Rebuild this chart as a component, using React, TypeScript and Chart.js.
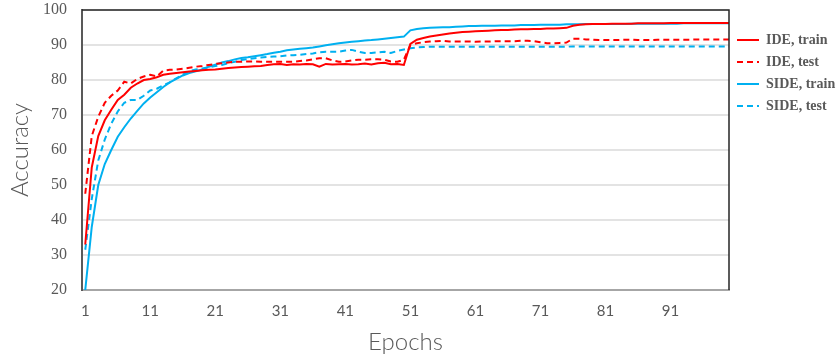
import React, { useEffect, useRef } from 'react';
import { Chart, registerables } from 'chart.js';

Chart.register(...registerables);

// Epoch numbers (x categories)
const epochs: number[] = Array.from({ length: 100 }, (_, i) => i + 1);
const xTickValues = [1, 11, 21, 31, 41, 51, 61, 71, 81, 91];
const yTickValues = [20, 30, 40, 50, 60, 70, 80, 90, 100];

const ideTrain = [
  33, 55, 64, 68.5, 71.5, 74.3, 75.8, 77.8, 79, 80,
  80.3, 80.8, 81.5, 81.8, 82, 82.2, 82.4, 82.6, 82.8, 82.9,
  83, 83.2, 83.4, 83.6, 83.7, 83.8, 83.9, 84, 84.3, 84.5,
  84.6, 84.3, 84.5, 84.4, 84.6, 84.5, 83.8, 84.6, 84.4, 84.5,
  84.6, 84.4, 84.5, 84.7, 84.4, 84.8, 84.9, 84.5, 84.6, 84.3,
  90.3, 91.5, 92, 92.4, 92.7, 93, 93.3, 93.5, 93.7, 93.8,
  93.9, 94, 94.1, 94.2, 94.3, 94.3, 94.4, 94.5, 94.5, 94.6,
  94.6, 94.7, 94.7, 94.8, 94.9, 95.5, 95.8, 95.9, 96, 96,
  96, 96.1, 96.1, 96.1, 96.1, 96.2, 96.2, 96.2, 96.2, 96.2,
  96.3, 96.3, 96.3, 96.3, 96.3, 96.3, 96.3, 96.3, 96.3, 96.3,
];

const ideTest = [
  47.5, 64, 69.5, 73.5, 75.5, 77, 79.5, 79, 80.3, 81,
  81.5, 81, 82.7, 82.9, 83, 83.2, 83.5, 83.8, 84, 84.3,
  84.6, 84.8, 85, 85.2, 85.2, 85.3, 85.3, 85.2, 85.2, 85.2,
  85.2, 85.2, 85.2, 85.4, 85.6, 85.9, 86.2, 86.2, 85.6, 85.2,
  85.3, 85.6, 85.8, 85.8, 85.9, 85.9, 85.8, 85.3, 85.2, 85.8,
  90, 90.5, 90.8, 91, 91.1, 91.2, 91, 91, 91, 91,
  90.9, 91, 91, 91.1, 91.1, 91.1, 91.1, 91.2, 91.2, 91.1,
  90.8, 90.5, 90.5, 90.6, 90.7, 91.8, 91.8, 91.6, 91.5, 91.4,
  91.4, 91.4, 91.4, 91.5, 91.5, 91.4, 91.4, 91.4, 91.5, 91.5,
  91.5, 91.5, 91.5, 91.5, 91.6, 91.6, 91.6, 91.6, 91.6, 91.6,
];

const sideTrain = [
  20, 38, 50, 56, 60, 63.8, 66.5, 69, 71.2, 73.3,
  75, 76.5, 78, 79.3, 80.3, 81.3, 82, 82.5, 83, 83.8,
  84.4, 85, 85.4, 85.9, 86.3, 86.5, 86.8, 87.1, 87.4, 87.8,
  88.1, 88.5, 88.7, 88.9, 89.1, 89.3, 89.6, 89.9, 90.2, 90.5,
  90.7, 90.9, 91.1, 91.3, 91.4, 91.6, 91.8, 92, 92.2, 92.4,
  94.2, 94.6, 94.8, 94.9, 95, 95.1, 95.1, 95.2, 95.3, 95.4,
  95.4, 95.5, 95.5, 95.5, 95.6, 95.6, 95.6, 95.7, 95.7, 95.7,
  95.8, 95.8, 95.8, 95.8, 95.9, 95.9, 95.9, 96, 96, 96,
  96, 96, 96, 96, 96.1, 96.1, 96.1, 96.1, 96.1, 96.1,
  96.1, 96.1, 96.2, 96.2, 96.2, 96.2, 96.2, 96.2, 96.2, 96.2,
];

const sideTest = [
  31.5, 46, 57, 63, 67.5, 71, 73.5, 74.3, 74.3, 75.5,
  77, 77.5, 78.5, 79.3, 80.5, 81.5, 82.5, 83, 83.3, 83.6,
  84, 84.3, 84.8, 85.2, 85.7, 86, 86.2, 86.4, 86.6, 86.7,
  86.8, 87, 87.1, 87.2, 87.4, 87.6, 87.9, 88.1, 88.1, 88.1,
  88.4, 88.6, 88.1, 87.7, 87.7, 87.9, 88.1, 87.7, 88.3, 88.7,
  89.1, 89.3, 89.4, 89.5, 89.5, 89.5, 89.5, 89.5, 89.5, 89.5,
  89.5, 89.5, 89.5, 89.5, 89.5, 89.5, 89.5, 89.5, 89.5, 89.5,
  89.5, 89.5, 89.5, 89.5, 89.5, 89.6, 89.6, 89.6, 89.6, 89.6,
  89.6, 89.6, 89.6, 89.6, 89.6, 89.6, 89.6, 89.6, 89.6, 89.6,
  89.6, 89.6, 89.6, 89.6, 89.6, 89.6, 89.6, 89.6, 89.6, 89.6,
];

const seriesNames = ['IDE, train', 'IDE, test', 'SIDE, train', 'SIDE, test'];
const RED = '#ff0000';
const BLUE = '#00b0f0';
const DASH = [6, 4];

const toPoints = (vals: number[]) => vals.map((v, i) => ({ x: epochs[i], y: v }));

const frameBorder = {
  id: 'frameBorder',
  afterDatasetsDraw(chart: any) {
    const { ctx, chartArea } = chart;
    ctx.save();
    ctx.strokeStyle = '#262626';
    ctx.lineWidth = 1.5;
    ctx.beginPath();
    ctx.moveTo(chartArea.left, chartArea.top);
    ctx.lineTo(chartArea.right, chartArea.top);
    ctx.lineTo(chartArea.right, chartArea.bottom);
    ctx.stroke();
    ctx.restore();
  },
};

export default function App() {
  const ref = useRef<HTMLCanvasElement>(null);

  useEffect(() => {
    document.body.style.margin = '0';
    const canvas = ref.current;
    if (!canvas) return;
    const mk = (label: string, data: number[], color: string, dashed: boolean) => ({
      label,
      data: toPoints(data),
      borderColor: color,
      backgroundColor: color,
      borderWidth: 2,
      borderDash: dashed ? DASH : [],
      pointRadius: 0,
      tension: 0,
      fill: false,
    });
    const chart = new Chart(canvas, {
      type: 'line',
      data: {
        datasets: [
          mk(seriesNames[0], ideTrain, RED, false),
          mk(seriesNames[1], ideTest, RED, true),
          mk(seriesNames[2], sideTrain, BLUE, false),
          mk(seriesNames[3], sideTest, BLUE, true),
        ],
      },
      options: {
        responsive: false,
        animation: false,
        layout: { padding: 0 },
        plugins: {
          tooltip: { enabled: false },
          legend: {
            position: 'right',
            align: 'start',
            maxWidth: 108,
            title: { display: true, text: ' ', font: { size: 10 }, padding: { top: 6.5, bottom: 6.5 } },
            labels: {
              usePointStyle: true,
              pointStyle: 'line',
              pointStyleWidth: 22,
              padding: 8,
              color: '#595959',
              font: { family: 'Liberation Serif', weight: 'bold', size: 14 },
              generateLabels: (ch: any) => {
                const items = Chart.defaults.plugins.legend.labels.generateLabels(ch);
                return items.map((it: any) => {
                  const ds = ch.data.datasets[it.datasetIndex];
                  return {
                    ...it,
                    strokeStyle: ds.borderColor,
                    fillStyle: ds.borderColor,
                    lineWidth: 2,
                    lineDash: ds.borderDash,
                    pointStyle: 'line',
                  };
                });
              },
            },
          },
        },
        scales: {
          x: {
            type: 'linear',
            min: 0.5,
            max: 100,
            afterFit: (s: any) => { s.height = 68; s.paddingLeft = 0; s.paddingRight = 0; },
            afterBuildTicks: (s: any) => { s.ticks = xTickValues.map((v) => ({ value: v })); },
            grid: { display: false, drawTicks: false },
            border: { display: true, color: '#a6a6a6', width: 2 },
            ticks: {
              padding: 12,
              color: '#595959',
              font: { family: 'Lato', size: 15 },
              autoSkip: false,
              maxRotation: 0,
              callback: (v: any) => String(v),
            },
            title: {
              display: true,
              text: 'Epochs',
              color: '#595959',
              font: { family: 'Lato', size: 24, weight: 300 },
              padding: { top: 0, bottom: 1 },
            },
          },
          y: {
            min: 20,
            max: 100,
            afterFit: (s: any) => { s.width = 82; s.paddingTop = 10; s.paddingBottom = 0; },
            afterBuildTicks: (s: any) => { s.ticks = yTickValues.map((v) => ({ value: v })); },
            grid: { color: '#e3e3e3', lineWidth: 2, drawTicks: false },
            border: { display: true, color: '#595959', width: 2 },
            ticks: {
              padding: 15,
              color: '#595959',
              font: { family: 'Liberation Serif', size: 16 },
            },
            title: {
              display: true,
              text: 'Accuracy',
              color: '#595959',
              font: { family: 'Lato', size: 24, weight: 300 },
              padding: { top: 6, bottom: 0 },
            },
          },
        },
      },
      plugins: [frameBorder],
    });
    return () => chart.destroy();
  }, []);

  return (
    <div style={{ width: 837, height: 358 }}>
      <canvas ref={ref} width={837} height={358} />
    </div>
  );
}
